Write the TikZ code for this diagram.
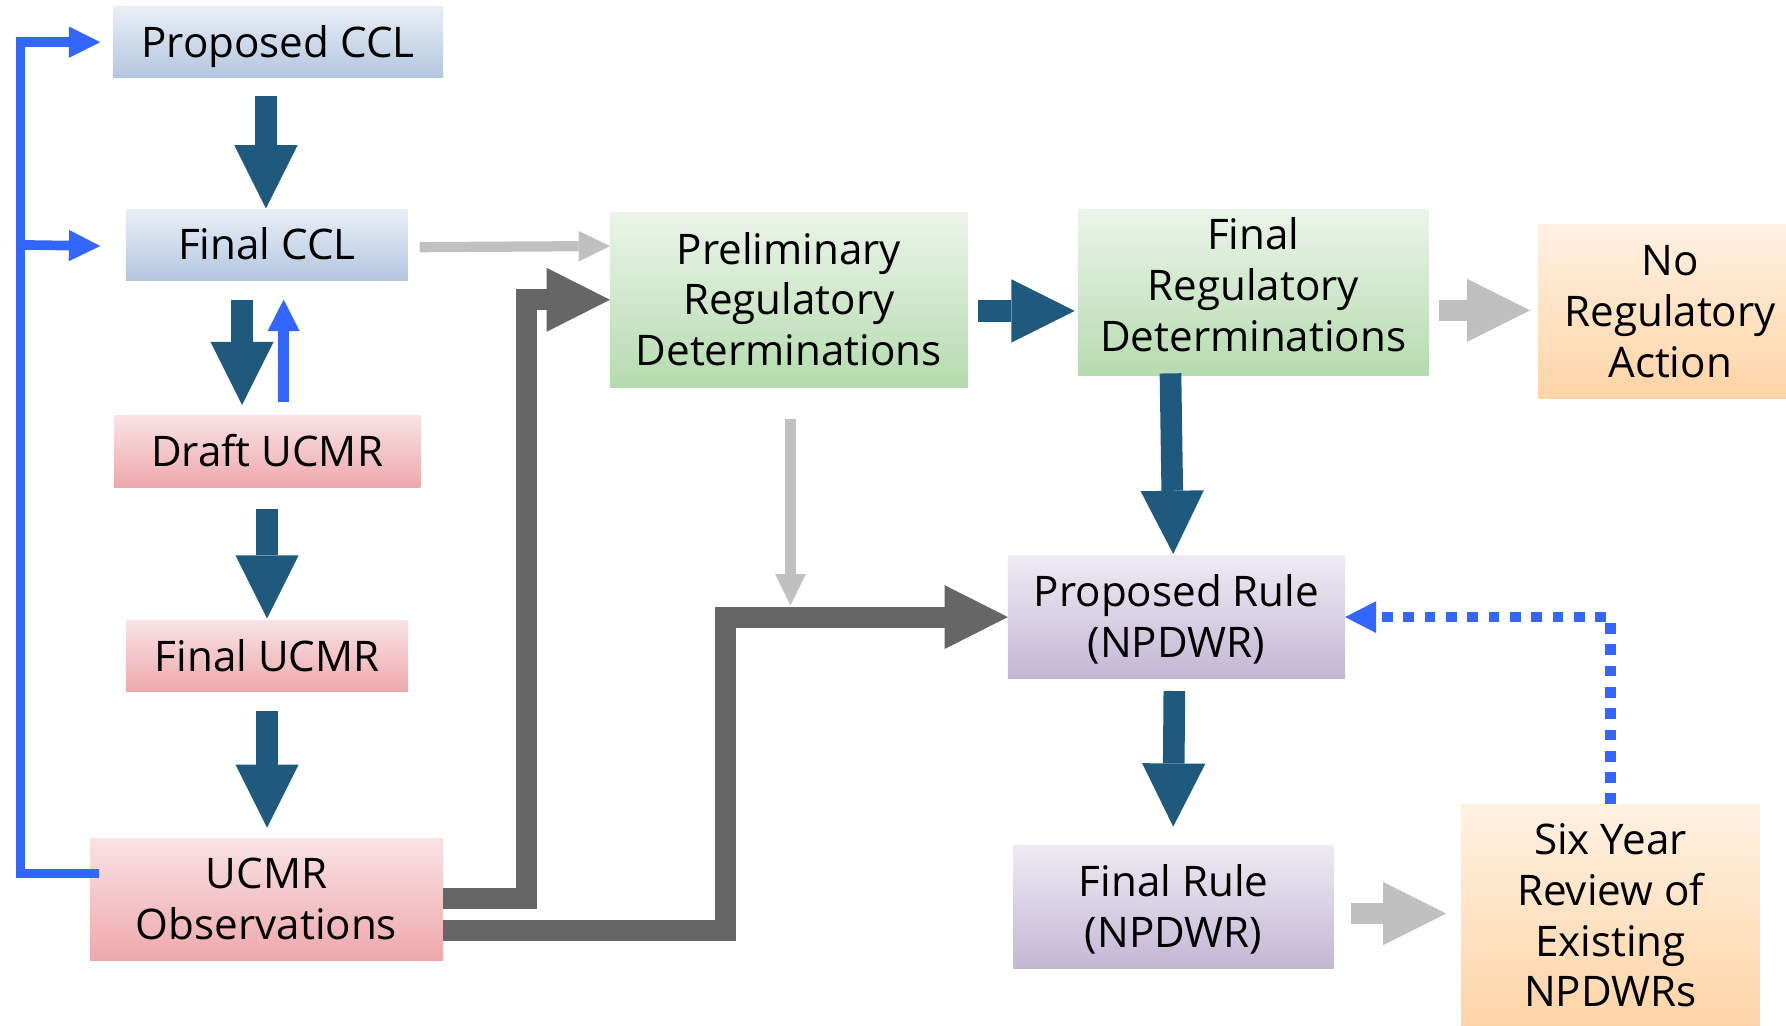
\documentclass[tikz,border=0pt]{standalone}
\usepackage{fontspec}
\setmainfont{Open Sans}
\usetikzlibrary{arrows.meta,calc}
\definecolor{dblue}{HTML}{1F5A7E}
\definecolor{lblue}{HTML}{3366FF}
\definecolor{dgray}{HTML}{666666}
\definecolor{lgray}{HTML}{C0C0C0}
\definecolor{cclT}{HTML}{E9EEF6}
\definecolor{cclB}{HTML}{B3C6DF}
\definecolor{ucmT}{HTML}{F8E2E5}
\definecolor{ucmB}{HTML}{EEA8AC}
\definecolor{grnT}{HTML}{EBF4E9}
\definecolor{grnB}{HTML}{B5DBAF}
\definecolor{purT}{HTML}{EEEAF3}
\definecolor{purB}{HTML}{C3B7D5}
\definecolor{orgT}{HTML}{FFF1E2}
\definecolor{orgB}{HTML}{FDD4A6}
\newcommand\lnstrut{\rule[-9pt]{0pt}{44.4pt}}
\begin{document}
\begin{tikzpicture}[x=1pt,y=-1pt,
  box/.style={inner sep=0pt, outer sep=0pt, align=center, font=\fontsize{37pt}{44.5pt}\selectfont},
  cclbox/.style={box, top color=cclT, bottom color=cclB},
  ucmbox/.style={box, top color=ucmT, bottom color=ucmB},
  grnbox/.style={box, top color=grnT, bottom color=grnB},
  purbox/.style={box, top color=purT, bottom color=purB},
  orgbox/.style={box, top color=orgT, bottom color=orgB},
  bigarrow/.style={draw=dblue, line width=19pt, -{Triangle[length=55.5pt,width=55.5pt,line width=0pt]}},
  graybig/.style={draw=lgray, line width=19pt, -{Triangle[length=55.5pt,width=55.5pt,line width=0pt]}},
  darkpipe/.style={draw=dgray, line width=18.5pt, line join=miter, -{Triangle[length=55.5pt,width=56pt,line width=0pt]}},
  thingray/.style={draw=lgray, line width=9pt, -{Triangle[length=27.5pt,width=27pt,line width=0pt]}},
  bluearrow/.style={draw=lblue, line width=8.5pt, line join=miter, -{Triangle[length=27.5pt,width=27.5pt,line width=0pt]}},
  blueup/.style={draw=lblue, line width=9.5pt, -{Triangle[length=27.6pt,width=28pt,line width=0pt]}},
  bluedot/.style={draw=lblue, line width=9.4pt, dash pattern=on 9.4pt off 9.3pt, -{Triangle[length=27.2pt,width=27.8pt,line width=0pt]}}
]
\useasboundingbox (0,0) rectangle (1568,900);
\clip (0,0) rectangle (1568,900);

% boxes
\node[cclbox, minimum width=290pt, minimum height=62pt] (pccl) at (244,37) {\lnstrut Proposed CCL};
\node[cclbox, minimum width=247.5pt, minimum height=62pt] (fccl) at (234.25,215) {\lnstrut Final CCL};
\node[ucmbox, minimum width=269pt, minimum height=63pt] (ducmr) at (234.5,396.5) {\lnstrut Draft UCMR};
\node[ucmbox, minimum width=247.7pt, minimum height=62pt] (fucmr) at (234.5,576) {\lnstrut Final UCMR};
\node[ucmbox, minimum width=310pt, minimum height=107pt] (obs) at (234,789.5) {\lnstrut UCMR\\\lnstrut Observations};
\node[grnbox, minimum width=314pt, minimum height=153.6pt] (prelim) at (692.5,263.2) {\lnstrut Preliminary\\\lnstrut Regulatory\\\lnstrut Determinations};
\node[grnbox, minimum width=307.3pt, minimum height=146.2pt] (frd) at (1100.25,256.7) {\lnstrut Final\\\lnstrut Regulatory\\\lnstrut Determinations\rule[-21pt]{0pt}{0pt}};
\node[orgbox, minimum width=231.5pt, minimum height=152.4pt] (noreg) at (1466.25,273.5) {\lnstrut No\\\lnstrut Regulatory\\\lnstrut Action};
\node[purbox, minimum width=296pt, minimum height=108pt] (prule) at (1032.85,541.75) {\lnstrut Proposed Rule\\\lnstrut (NPDWR)};
\node[purbox, minimum width=282pt, minimum height=108pt] (frule) at (1030.35,796.25) {\lnstrut Final Rule\\\lnstrut (NPDWR)};
\node[orgbox, minimum width=262.2pt, minimum height=196pt] (six) at (1413.9,804) {\lnstrut Six Year\\\lnstrut Review of\\\lnstrut Existing\\\lnstrut NPDWRs};

% helper coordinates
\coordinate (lx) at (18,37);
\coordinate (d1c) at (462,263.2);
\coordinate (d2c) at (637,541.75);
\coordinate (j2) at (694,531.5);

% dark gray pipes
\draw[darkpipe] ($(obs.east)+(0,-0.5)$) -| (d1c) -- (prelim.west);
\draw[darkpipe] ($(obs.east)+(0,27.5)$) -| (d2c) -- (prule.west);

% light gray thin arrows
\draw[thingray] ($(fccl.east)+(10.5,2)$) -- ($(prelim.west)+(0,-47.2)$);
\draw[thingray] ($(prelim.south)+(1.5,28)$) -- (j2);

% dark blue block arrows
\draw[bigarrow] ($(pccl.south)+(-10.5,16)$) -- ($(fccl.north)+(-0.75,-1)$);
\draw[bigarrow] ($(fccl.south)+(-21.75,17)$) -- ($(ducmr.north)+(-22,-9.4)$);
\draw[bigarrow] ($(ducmr.south)+(0,19)$) -- ($(fucmr.north)+(0,-2)$);
\draw[bigarrow] ($(fucmr.south)+(0,17.6)$) -- ($(obs.north)+(0.5,-9.3)$);
\draw[bigarrow] ($(prelim.east)+(9.5,9.8)$) -- ($(frd.west)+(-3.1,16.3)$);
\draw[bigarrow] ($(frd.south)+(-72.65,-2)$) -- ($(prule.north)+(-2.85,-1.4)$);
\draw[bigarrow] ($(prule.south)+(-1.85,10.9)$) -- ($(frule.north)+(-0.35,-16.5)$);

% light gray block arrows
\draw[graybig] ($(frd.east)+(9.5,15.8)$) -- ($(noreg.west)+(-7.2,-1)$);
\draw[graybig] ($(frule.east)+(14.8,5.75)$) -- ($(six.west)+(-13.1,-2)$);

% blue feedback lines
\draw[blueup] ($(ducmr.north)+(14.5,-12.4)$) -- ($(fccl.south)+(14.75,17)$);
\draw[bluearrow] ($(obs.west)+(7.5,-22.5)$) -| (lx) -- ($(pccl.west)+(-11,0)$);
\draw[bluearrow] (lx |- fccl.west) -- ($(fccl.west)+(-22.5,1)$);
\draw[bluedot] (six.north) |- (prule.east);
\end{tikzpicture}
\end{document}
